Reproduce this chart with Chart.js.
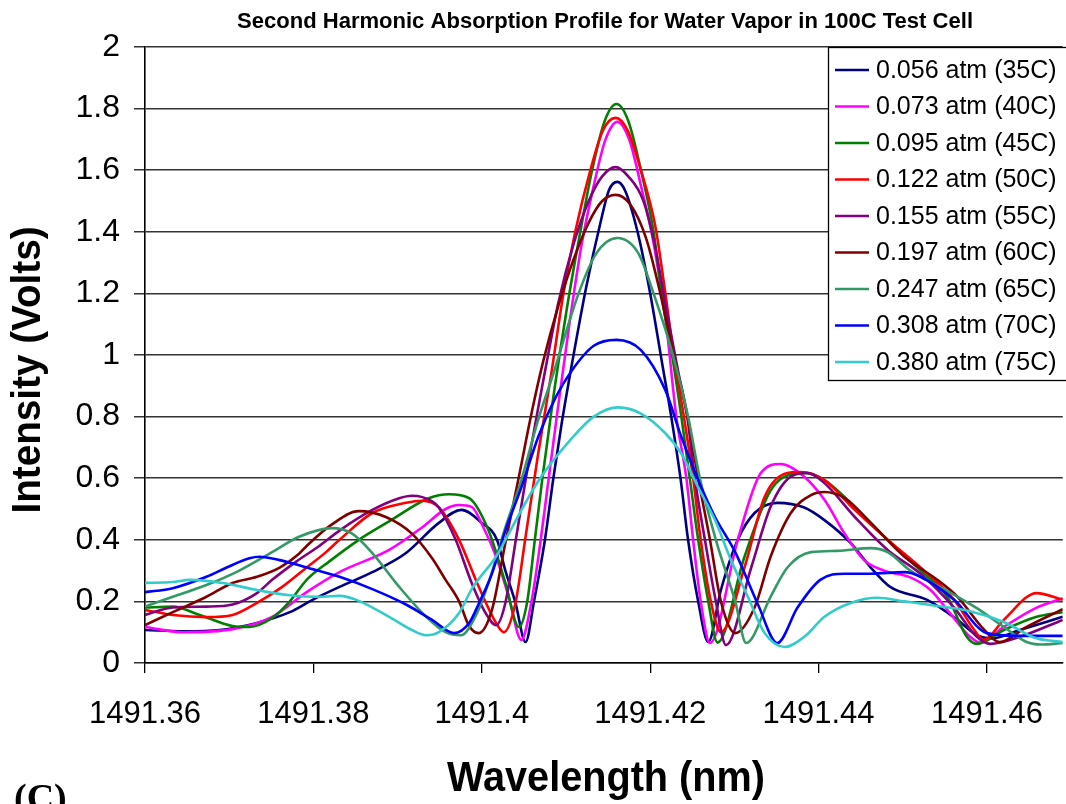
<!DOCTYPE html>
<html>
<head>
<meta charset="utf-8">
<script src="https://cdn.jsdelivr.net/npm/chart.js@4.4.1/dist/chart.umd.min.js"></script>
<style>
  html, body { margin: 0; padding: 0; background: #ffffff; overflow: hidden; }
  #wrap { width: 1066px; height: 804px; position: relative; }
</style>
</head>
<body>
<div id="wrap"><canvas id="c" width="1066" height="804"></canvas></div>
<script>
// Second-harmonic absorption profiles (wavelength in nm, intensity in volts)
const wl056 = [1491.3600,1491.3645,1491.3689,1491.3733,1491.3772,1491.3799,1491.3831,1491.3870,1491.3910,1491.3949,1491.3976,1491.4000,1491.4018,1491.4028,1491.4040,1491.4052,1491.4062,1491.4075,1491.4085,1491.4095,1491.4107,1491.4124,1491.4141,1491.4151,1491.4161,1491.4170,1491.4185,1491.4200,1491.4215,1491.4225,1491.4236,1491.4245,1491.4257,1491.4269,1491.4284,1491.4304,1491.4324,1491.4351,1491.4383,1491.4407,1491.4438,1491.4462,1491.4485,1491.4529,1491.4565,1491.4588,1491.4606,1491.4639,1491.4690];
const iv056 = [0.107,0.103,0.107,0.13,0.165,0.205,0.247,0.295,0.357,0.455,0.497,0.455,0.40,0.30,0.195,0.068,0.2,0.4,0.6,0.78,0.97,1.22,1.43,1.535,1.562,1.535,1.40,1.2,0.96,0.8,0.6,0.4,0.2,0.068,0.237,0.40,0.487,0.52,0.505,0.464,0.39,0.31,0.247,0.205,0.14,0.09,0.08,0.107,0.15];

const wl073 = [1491.3600,1491.3645,1491.3704,1491.3751,1491.3792,1491.3831,1491.3890,1491.3929,1491.3957,1491.3973,1491.3988,1491.4002,1491.4017,1491.4032,1491.4047,1491.4059,1491.4070,1491.4079,1491.4091,1491.4104,1491.4118,1491.4133,1491.4147,1491.4161,1491.4175,1491.4189,1491.4205,1491.4219,1491.4231,1491.4243,1491.4251,1491.4260,1491.4271,1491.4304,1491.4331,1491.4355,1491.4383,1491.4407,1491.4431,1491.4454,1491.4478,1491.4509,1491.4533,1491.4556,1491.4580,1491.4592,1491.4620,1491.4659,1491.4690];
const iv073 = [0.117,0.10,0.11,0.15,0.23,0.295,0.367,0.44,0.50,0.513,0.507,0.44,0.345,0.215,0.075,0.2,0.4,0.59,0.84,1.1,1.35,1.55,1.70,1.757,1.70,1.55,1.35,1.1,0.8,0.6,0.4,0.2,0.065,0.40,0.615,0.646,0.605,0.53,0.42,0.334,0.30,0.278,0.237,0.162,0.085,0.066,0.117,0.18,0.21];

const wl095 = [1491.3600,1491.3633,1491.3665,1491.3704,1491.3724,1491.3751,1491.3772,1491.3792,1491.3819,1491.3854,1491.3890,1491.3937,1491.3961,1491.3985,1491.4008,1491.4028,1491.4044,1491.4054,1491.4063,1491.4072,1491.4085,1491.4101,1491.4117,1491.4131,1491.4146,1491.4160,1491.4174,1491.4189,1491.4204,1491.4215,1491.4226,1491.4237,1491.4247,1491.4257,1491.4269,1491.4280,1491.4312,1491.4343,1491.4372,1491.4383,1491.4407,1491.4443,1491.4482,1491.4521,1491.4553,1491.4576,1491.4588,1491.4620,1491.4659,1491.4690];
const iv095 = [0.18,0.183,0.156,0.12,0.117,0.146,0.2,0.27,0.33,0.40,0.46,0.535,0.548,0.535,0.43,0.26,0.117,0.2,0.4,0.6,0.864,1.15,1.4,1.6,1.76,1.815,1.76,1.6,1.4,1.17,1.0,0.8,0.6,0.4,0.2,0.066,0.345,0.56,0.615,0.617,0.594,0.507,0.40,0.30,0.215,0.085,0.062,0.107,0.15,0.165];

const wl122 = [1491.3600,1491.3633,1491.3673,1491.3704,1491.3733,1491.3763,1491.3792,1491.3815,1491.3831,1491.3870,1491.3910,1491.3929,1491.3949,1491.3973,1491.3996,1491.4017,1491.4026,1491.4040,1491.4052,1491.4067,1491.4082,1491.4097,1491.4111,1491.4129,1491.4144,1491.4159,1491.4173,1491.4189,1491.4206,1491.4217,1491.4228,1491.4240,1491.4251,1491.4260,1491.4272,1491.4284,1491.4312,1491.4336,1491.4363,1491.4379,1491.4407,1491.4443,1491.4482,1491.4521,1491.4561,1491.4585,1491.4596,1491.4620,1491.4659,1491.4690];
const iv122 = [0.172,0.156,0.149,0.156,0.195,0.247,0.31,0.36,0.40,0.487,0.52,0.527,0.505,0.40,0.25,0.13,0.10,0.195,0.41,0.68,0.93,1.2,1.4,1.6,1.73,1.77,1.73,1.6,1.42,1.22,1.0,0.8,0.6,0.4,0.2,0.10,0.31,0.54,0.617,0.62,0.594,0.497,0.40,0.31,0.205,0.107,0.075,0.14,0.227,0.205];

const wl155 = [1491.3600,1491.3633,1491.3673,1491.3704,1491.3733,1491.3751,1491.3780,1491.3807,1491.3831,1491.3870,1491.3902,1491.3917,1491.3941,1491.3949,1491.3969,1491.3988,1491.4005,1491.4017,1491.4028,1491.4041,1491.4056,1491.4076,1491.4091,1491.4109,1491.4127,1491.4143,1491.4159,1491.4174,1491.4192,1491.4206,1491.4219,1491.4233,1491.4244,1491.4253,1491.4265,1491.4278,1491.4290,1491.4320,1491.4343,1491.4367,1491.4387,1491.4407,1491.4443,1491.4482,1491.4521,1491.4561,1491.4588,1491.4604,1491.4639,1491.4690];
const iv155 = [0.156,0.18,0.183,0.19,0.227,0.27,0.33,0.38,0.43,0.497,0.535,0.543,0.525,0.505,0.40,0.26,0.16,0.123,0.195,0.41,0.66,0.96,1.17,1.36,1.5,1.58,1.61,1.58,1.5,1.35,1.15,0.95,0.8,0.6,0.4,0.2,0.058,0.31,0.507,0.605,0.617,0.584,0.474,0.367,0.29,0.18,0.085,0.062,0.085,0.14];

const wl197 = [1491.3600,1491.3633,1491.3673,1491.3704,1491.3733,1491.3760,1491.3783,1491.3792,1491.3822,1491.3854,1491.3886,1491.3917,1491.3941,1491.3957,1491.3973,1491.3985,1491.3996,1491.4012,1491.4028,1491.4044,1491.4059,1491.4073,1491.4091,1491.4109,1491.4127,1491.4143,1491.4159,1491.4176,1491.4195,1491.4212,1491.4228,1491.4245,1491.4257,1491.4271,1491.4284,1491.4301,1491.4324,1491.4343,1491.4367,1491.4391,1491.4407,1491.4431,1491.4462,1491.4502,1491.4541,1491.4565,1491.4596,1491.4615,1491.4647,1491.4690];
const iv197 = [0.123,0.165,0.215,0.26,0.28,0.31,0.355,0.38,0.45,0.493,0.474,0.42,0.34,0.27,0.2,0.12,0.097,0.172,0.39,0.604,0.81,0.98,1.16,1.31,1.43,1.5,1.52,1.49,1.38,1.2,1.0,0.79,0.6,0.4,0.2,0.097,0.18,0.345,0.487,0.545,0.555,0.535,0.455,0.345,0.27,0.215,0.11,0.068,0.117,0.175];

const wl247 = [1491.3600,1491.3633,1491.3673,1491.3712,1491.3751,1491.3783,1491.3822,1491.3846,1491.3870,1491.3902,1491.3934,1491.3957,1491.3975,1491.3994,1491.4008,1491.4028,1491.4047,1491.4067,1491.4085,1491.4115,1491.4136,1491.4161,1491.4186,1491.4204,1491.4227,1491.4245,1491.4259,1491.4278,1491.4301,1491.4314,1491.4343,1491.4363,1491.4391,1491.4422,1491.4462,1491.4482,1491.4509,1491.4549,1491.4588,1491.4620,1491.4647,1491.4665,1491.4690];
const iv247 = [0.183,0.215,0.253,0.30,0.36,0.41,0.438,0.42,0.357,0.247,0.15,0.10,0.09,0.16,0.26,0.44,0.594,0.79,0.94,1.2,1.33,1.38,1.33,1.2,1.0,0.8,0.6,0.4,0.2,0.065,0.215,0.31,0.36,0.364,0.373,0.36,0.30,0.24,0.178,0.117,0.068,0.06,0.065];

const wl308 = [1491.3600,1491.3633,1491.3673,1491.3697,1491.3724,1491.3736,1491.3760,1491.3792,1491.3831,1491.3870,1491.3910,1491.3941,1491.3967,1491.3985,1491.3996,1491.4012,1491.4028,1491.4047,1491.4067,1491.4088,1491.4107,1491.4133,1491.4160,1491.4189,1491.4218,1491.4237,1491.4257,1491.4277,1491.4301,1491.4328,1491.4351,1491.4375,1491.4402,1491.4431,1491.4462,1491.4502,1491.4521,1491.4561,1491.4600,1491.4639,1491.4690];
const iv308 = [0.23,0.243,0.28,0.31,0.34,0.345,0.334,0.31,0.28,0.24,0.19,0.14,0.097,0.13,0.19,0.29,0.43,0.57,0.734,0.864,0.95,1.03,1.049,1.016,0.886,0.734,0.594,0.474,0.36,0.19,0.065,0.18,0.27,0.29,0.29,0.295,0.28,0.205,0.097,0.088,0.088];

const wl380 = [1491.3600,1491.3633,1491.3653,1491.3692,1491.3733,1491.3772,1491.3811,1491.3831,1491.3851,1491.3890,1491.3917,1491.3934,1491.3949,1491.3973,1491.3988,1491.4018,1491.4028,1491.4067,1491.4107,1491.4133,1491.4162,1491.4189,1491.4218,1491.4237,1491.4257,1491.4277,1491.4296,1491.4316,1491.4336,1491.4360,1491.4383,1491.4407,1491.4438,1491.4470,1491.4502,1491.4541,1491.4580,1491.4620,1491.4659,1491.4690];
const iv380 = [0.26,0.263,0.27,0.26,0.237,0.22,0.215,0.218,0.205,0.15,0.107,0.09,0.1,0.162,0.24,0.35,0.40,0.59,0.73,0.80,0.83,0.81,0.746,0.68,0.57,0.464,0.334,0.215,0.097,0.052,0.085,0.15,0.195,0.212,0.2,0.185,0.168,0.133,0.08,0.068];

const seriesLabels = ['0.056 atm (35C)','0.073 atm (40C)','0.095 atm (45C)','0.122 atm (50C)','0.155 atm (55C)','0.197 atm (60C)','0.247 atm (65C)','0.308 atm (70C)','0.380 atm (75C)'];
const seriesColors = ['#000080','#FF00FF','#008000','#FF0000','#800080','#800000','#339966','#0000FF','#33CCCC'];
const seriesWl = [wl056, wl073, wl095, wl122, wl155, wl197, wl247, wl308, wl380];
const seriesIv = [iv056, iv073, iv095, iv122, iv155, iv197, iv247, iv308, iv380];

const xTicks = [1491.36, 1491.38, 1491.40, 1491.42, 1491.44, 1491.46];
const yTicks = [0, 0.2, 0.4, 0.6, 0.8, 1.0, 1.2, 1.4, 1.6, 1.8, 2.0];

const chartTitle = 'Second Harmonic Absorption Profile for Water Vapor in 100C Test Cell';
const xTitle = 'Wavelength (nm)';
const yTitle = 'Intensity (Volts)';
const panelTag = '(C)';

const SANS = "'Liberation Sans', Arial, Helvetica, sans-serif";

const datasets = seriesLabels.map((label, i) => ({
  label,
  data: seriesWl[i].map((w, k) => ({ x: w, y: seriesIv[i][k] })),
  borderColor: seriesColors[i],
  backgroundColor: seriesColors[i],
  borderWidth: 2.6,
  pointRadius: 0,
  fill: false,
  cubicInterpolationMode: 'monotone',
  order: seriesLabels.length - i
}));

// draws text centred at (cx, cy), squeezed or stretched horizontally to a given width
function fitText(ctx, text, cx, cy, font, width) {
  ctx.font = font;
  const w = ctx.measureText(text).width;
  ctx.save();
  ctx.translate(cx, cy);
  ctx.scale(width / w, 1);
  ctx.fillText(text, 0, 0);
  ctx.restore();
}

// Title, axis titles, panel tag and the boxed legend inside the plot
const decorations = {
  id: 'decorations',
  afterDraw(chart) {
    const ctx = chart.ctx;
    const area = chart.chartArea;
    ctx.save();
    ctx.fillStyle = '#000';
    ctx.textAlign = 'center';
    ctx.textBaseline = 'middle';

    fitText(ctx, chartTitle, 605, 22, 'bold 22px ' + SANS, 736);
    fitText(ctx, xTitle, 606, 779, 'bold 42px ' + SANS, 318);

    ctx.save();
    ctx.translate(29, 370);
    ctx.rotate(-Math.PI / 2);
    fitText(ctx, yTitle, 0, 0, 'bold 41px ' + SANS, 287);
    ctx.restore();

    ctx.font = 'bold 38px "Liberation Serif", "Times New Roman", serif';
    ctx.textAlign = 'left';
    ctx.textBaseline = 'alphabetic';
    ctx.fillText(panelTag, 14, 810);

    // legend box
    const bx = 828, by = area.top, bw = 1066 - 828 + 2, bh = 380 - area.top;
    ctx.fillStyle = '#ffffff';
    ctx.fillRect(bx, by, bw, bh);
    ctx.strokeStyle = '#000';
    ctx.lineWidth = 1.3;
    ctx.strokeRect(bx + 0.5, by + 0.5, bw, bh);
    ctx.font = '25px ' + SANS;
    ctx.textBaseline = 'middle';
    ctx.textAlign = 'left';
    seriesLabels.forEach((label, i) => {
      const y = 70 + i * 36.5;
      ctx.strokeStyle = seriesColors[i];
      ctx.lineWidth = 2.6;
      ctx.beginPath();
      ctx.moveTo(835, y);
      ctx.lineTo(869, y);
      ctx.stroke();
      ctx.fillStyle = '#000';
      ctx.fillText(label, 876, y + 1);
    });
    ctx.restore();
  }
};

new Chart(document.getElementById('c'), {
  type: 'line',
  data: { datasets },
  options: {
    responsive: false,
    animation: false,
    events: [],
    layout: { padding: { top: 47, right: 0, bottom: 0, left: 0 } },
    plugins: { legend: { display: false }, title: { display: false }, tooltip: { enabled: false } },
    scales: {
      x: {
        type: 'linear',
        min: 1491.36,
        max: 1491.469,
        afterFit: s => { s.height = 141; },
        afterBuildTicks: s => { s.ticks = xTicks.map(v => ({ value: v })); },
        grid: { display: true, drawOnChartArea: false, drawTicks: true, tickLength: 10, color: '#000', lineWidth: 1.3 },
        border: { display: true, color: '#000', width: 1.6 },
        ticks: {
          padding: 23, color: '#000', maxRotation: 0, autoSkip: false,
          font: { family: SANS, size: 31 },
          callback: v => String(+v.toFixed(2))
        }
      },
      y: {
        type: 'linear',
        min: 0,
        max: 2,
        afterFit: s => { s.width = 145; },
        afterBuildTicks: s => { s.ticks = yTicks.map(v => ({ value: v })); },
        grid: { display: true, drawTicks: true, tickLength: 11, color: '#333333', lineWidth: 1.5 },
        border: { display: true, color: '#000', width: 1.6 },
        ticks: {
          padding: 14, color: '#000',
          font: { family: SANS, size: 32 },
          callback: v => String(+v.toFixed(1))
        }
      }
    }
  },
  plugins: [decorations]
});
</script>
</body>
</html>
